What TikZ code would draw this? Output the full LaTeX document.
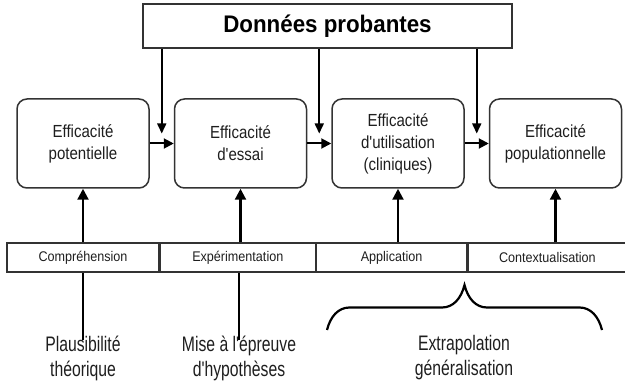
\documentclass[tikz,border=0pt]{standalone}
\usepackage{fontspec}
\setmainfont{Liberation Sans}
\newfontfamily\titlefont{Liberation Sans}[FakeStretch=0.93]
\newfontfamily\stagefont{Liberation Sans}[FakeStretch=0.86]
\newfontfamily\barfont{Liberation Sans}[FakeStretch=0.9]
\newfontfamily\notefont{Liberation Sans}[FakeStretch=0.75]
\usepackage{tikz}
\usetikzlibrary{arrows.meta, positioning, calc, decorations.pathreplacing}
\definecolor{inkdark}{HTML}{1E1E1E}
\definecolor{linegray}{HTML}{333333}

\begin{document}
\begin{tikzpicture}[
  x=1pt, y=1pt,
  node distance=24pt,
  evidence/.style={rectangle, draw=linegray, line width=2pt, minimum width=369pt, minimum height=44pt, text=black, font=\titlefont\bfseries\fontsize{24}{28}\selectfont},
  stage/.style={rectangle, rounded corners=10pt, draw=linegray, line width=1.5pt, minimum width=132pt, minimum height=89pt, align=center, text=inkdark, font=\stagefont\fontsize{17.5}{22}\selectfont},
  seg/.style={rectangle, draw=linegray, line width=1.3pt, minimum height=29pt, inner sep=0pt, text=inkdark, font=\barfont\fontsize{14}{16}\selectfont},
  note/.style={align=center, text=inkdark, font=\notefont\fontsize{21}{25}\selectfont},
  arrow/.style={-{Triangle[length=10pt, width=10pt]}, line width=2pt, color=black},
  downarrow/.style={-{Triangle[length=10pt, width=9pt]}, line width=1.6pt, color=black},
  uparrow/.style={-{Triangle[length=11pt, width=11pt]}, line width=2.3pt, color=black},
  link/.style={line width=2.3pt, color=black},
  bracepen/.style={decorate, decoration={brace, amplitude=22.5pt, aspect=0.5, transform={yscale=2}}, line width=2.2pt, color=black},
]
  \useasboundingbox (0,0) rectangle (625,-385);

  % evidence on top
  \node[evidence] (data) at (327.5,-26) {Données probantes};

  % the four stages
  \node[stage] (potential) at (83,-143.5) {Efficacité\\potentielle};
  \node[stage, right=of potential] (trial) {Efficacité\\d'essai};
  \node[stage, right=of trial] (usage) {Efficacité\\d'utilisation\\(cliniques)};
  \node[stage, right=of usage] (population) {Efficacité\\populationnelle};

  \draw[arrow] (potential.east) -- (trial.west);
  \draw[arrow] (trial.east) -- (usage.west);
  \draw[arrow] (usage.east) -- (population.west);

  % evidence feeds in between the stages
  \coordinate (gap1) at ($(potential.east)!0.5!(trial.west)+(0,10)$);
  \coordinate (gap2) at ($(trial.east)!0.5!(usage.west)+(0,10)$);
  \coordinate (gap3) at ($(usage.east)!0.5!(population.west)+(0,10)$);
  \draw[downarrow] (data.south -| gap1) -- (gap1);
  \draw[downarrow] (data.south -| gap2) -- (gap2);
  \draw[downarrow] (data.south -| gap3) -- (gap3);

  % process bar
  \node[seg, minimum width=152pt] (understand) at (83,-257.5) {Compréhension};
  \node[seg, minimum width=155pt, right=0pt of understand] (experiment) {Expérimentation};
  \node[seg, minimum width=150pt, right=0pt of experiment] (apply) {Application};
  \node[seg, minimum width=159pt, right=0pt of apply] (context) {Contextualisation};

  \draw[uparrow] (potential.south |- understand.north) -- (potential.south);
  \draw[uparrow] (trial.south |- experiment.north) -- (trial.south);
  \draw[uparrow] (usage.south |- apply.north) -- (usage.south);
  \draw[uparrow] (population.south |- context.north) -- (population.south);

  % notes below
  \node[note] (plausible) at (83,-358) {Plausibilité\\théorique};
  \node[note] (testing) at (239,-358) {Mise à l'épreuve\\d'hypothèses};
  \node[note] (extrapolate) at (464,-358) {Extrapolation\\généralisation};

  \draw[link] (plausible.north) ++(0,-8) coordinate (p1) (p1) -- (p1 |- understand.south);
  \draw[link] (testing.north) ++(0,-8) coordinate (t1) (t1) -- (t1 |- experiment.south);

  \coordinate (bl) at (327,-330);
  \coordinate (br) at (602,-330);
  \draw[bracepen] (bl) -- (br);
\end{tikzpicture}
\end{document}
